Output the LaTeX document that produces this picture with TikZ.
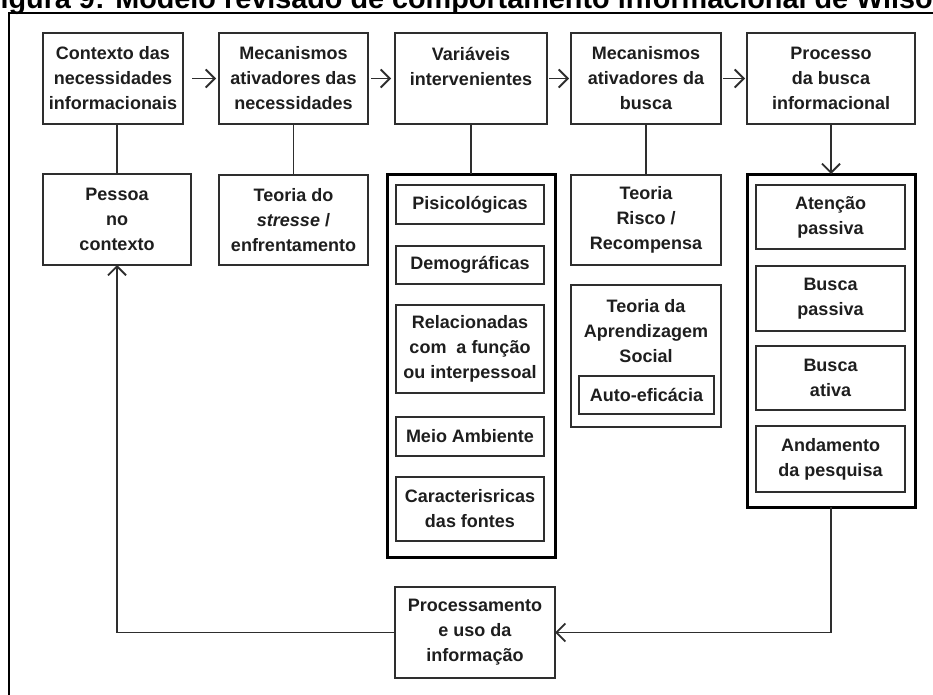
\documentclass[tikz,border=0pt]{standalone}
\usepackage{fontspec}
\setmainfont{Liberation Sans}
\usetikzlibrary{arrows.meta}
\definecolor{ink}{HTML}{1E1E1E}
\definecolor{edge}{HTML}{2E2E2E}
\begin{document}
\begin{tikzpicture}[x=1pt,y=-1pt,
  every node/.style={inner sep=0pt,outer sep=0pt},
  lbl/.style={font=\fontsize{18}{25}\selectfont\bfseries, text=ink, align=center},
  box/.style={lbl, draw=edge, line width=1.4pt, fill=white},
  group/.style={draw=black, line width=3pt, fill=white},
  link/.style={draw=edge, line width=1.6pt},
  arr/.style={link, -{Straight Barb[length=9pt,width=18pt,line width=1.8pt]}},
]
\useasboundingbox (0,0) rectangle (933,695);

% outer frame and heading
\draw[line width=1.5pt] (9,700) -- (9,13) -- (940,13);
\node[anchor=base west, font=\fontsize{28.8}{30}\selectfont\bfseries] (title) at (-17,9)
  {Figura 9: Modelo revisado de comportamento informacional de Wilson};

% top row
\node[box, minimum width=140pt, minimum height=91pt] (ctx) at (113,78.5)
  {Contexto das\\necessidades\\informacionais};
\node[box, minimum width=149pt, minimum height=91pt] (mec1) at (293.5,78.5)
  {Mecanismos\\ativadores das\\necessidades};
\node[box, minimum width=152pt, minimum height=91pt] (var) at (471,78.5)
  {Variáveis\\intervenientes\\~};
\node[box, minimum width=150pt, minimum height=91pt] (mec2) at (646,78.5)
  {Mecanismos\\ativadores da\\busca};
\node[box, minimum width=168pt, minimum height=91pt] (proc) at (831,78.5)
  {Processo\\da busca\\informacional};

% second row
\node[box, minimum width=148pt, minimum height=91pt] (pessoa) at (117,219.5)
  {Pessoa\\no\\contexto};
\node[box, minimum width=149pt, minimum height=90pt] (stress) at (293.5,220)
  {Teoria do\\\textit{stresse} /\\enfrentamento};
\node[box, minimum width=150pt, minimum height=90pt] (risco) at (646,220)
  {Teoria\\Risco /\\Recompensa};

% intervening variables
\node[group, minimum width=168pt, minimum height=383pt] (varbox) at (471,365.5) {};
\node[box, minimum width=148pt, minimum height=39pt] (psi) at (470,204.5) {Pisicológicas};
\node[box, minimum width=148pt, minimum height=38pt] (demo) at (470,265) {Demográficas};
\node[box, minimum width=148pt, minimum height=88pt] (rel) at (470,349)
  {Relacionadas\\com~ a função\\ou interpessoal};
\node[box, minimum width=148pt, minimum height=39pt] (meio) at (470,436.5) {Meio Ambiente};
\node[box, minimum width=148pt, minimum height=64pt] (carac) at (470,509)
  {Caracterisricas\\das fontes};

% social learning theory
\node[box, minimum width=150pt, minimum height=142pt] (aprend) at (646,356) {};
\node[lbl] (aprendtxt) at (646,331) {Teoria da\\Aprendizagem\\Social};
\node[box, minimum width=135pt, minimum height=38pt] (auto) at (646.5,395) {Auto-eficácia};

% information seeking modes
\node[group, minimum width=168pt, minimum height=333pt] (busca) at (831,340.5) {};
\node[box, minimum width=149pt, minimum height=64pt] (aten) at (830.5,217) {Atenção\\passiva};
\node[box, minimum width=149pt, minimum height=65pt] (bpass) at (830.5,298.5) {Busca\\passiva};
\node[box, minimum width=149pt, minimum height=64pt] (bativ) at (830.5,378) {Busca\\ativa};
\node[box, minimum width=149pt, minimum height=66pt] (anda) at (830.5,459) {Andamento\\da pesquisa};

% processing
\node[box, minimum width=160pt, minimum height=91pt] (uso) at (475,632.5)
  {Processamento\\e uso da\\informação};

% connectors along the top row
\draw[arr, shorten <=9pt, shorten >=3pt] (ctx.east) -- (mec1.west);
\draw[arr, shorten <=3pt, shorten >=4pt] (mec1.east) -- (var.west);
\draw[arr, shorten <=2pt, shorten >=2pt] (var.east) -- (mec2.west);
\draw[arr, shorten <=2pt, shorten >=2pt] (mec2.east) -- (proc.west);

% vertical links
\draw[link] (pessoa.north) -- (pessoa.north |- ctx.south);
\draw[link] (mec1.south) -- (stress.north);
\draw[link] (var.south) -- (varbox.north);
\draw[link] (mec2.south) -- (risco.north);
\draw[arr] (proc.south) -- (busca.north);

% feedback loop
\draw[arr, line width=1.9pt] (busca.south) |- (uso.east);
\draw[arr, line width=1.9pt] (uso.west) -| (pessoa.south);
\end{tikzpicture}
\end{document}
